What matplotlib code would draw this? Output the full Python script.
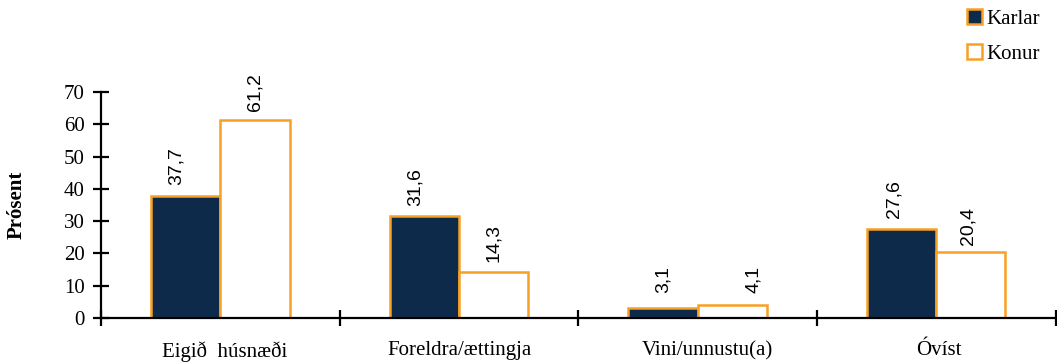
import matplotlib
matplotlib.use("Agg")
import matplotlib.pyplot as plt
from matplotlib.patches import Patch
import matplotlib.transforms as mtransforms
import numpy as np

categories = ["Eigið  húsnæði", "Foreldra/ættingja", "Vini/unnustu(a)", "Óvíst"]
karlar = [37.7, 31.6, 3.1, 27.6]
konur = [61.2, 14.3, 4.1, 20.4]
series_names = ["Karlar", "Konur"]
yticks = [0, 10, 20, 30, 40, 50, 60, 70]

# label nudges in pixels (style only)
karlar_dx = [-10, -9, 0, -8]
konur_dx = [0, 0, 21, -3]
karlar_dy = [11, 10, 15, 11]
konur_dy = [9, 10, 12, 7]
category_dx = [4, 1, 10, 3]

navy = "#0D2A4B"
orange = "#F8A024"
serif = ["Liberation Serif", "DejaVu Serif"]
sans = ["Liberation Sans", "DejaVu Sans"]

fig = plt.figure(figsize=(10.57, 3.62), dpi=100)
ax = fig.add_axes([0.0956, 0.1215, 0.903, 0.6245])

x = np.arange(len(categories))
w = 0.29
b1 = ax.bar(x - w / 2, karlar, w, color=navy, edgecolor=orange, linewidth=1.8)
b2 = ax.bar(x + w / 2, konur, w, color="white", edgecolor=orange, linewidth=1.8)

for bars, vals, dxs, dys in ((b1, karlar, karlar_dx, karlar_dy), (b2, konur, konur_dx, konur_dy)):
    for r, v, dx, dy in zip(bars, vals, dxs, dys):
        ax.annotate(f"{v:.1f}".replace(".", ","),
                    xy=(r.get_x() + r.get_width() / 2, v),
                    xytext=(dx, dy), textcoords="offset pixels",
                    rotation=90, ha="center", va="bottom", fontsize=14,
                    family=sans)

ax.set_xlim(-0.5, len(categories) - 0.5)
ax.set_ylim(0, 70)
ax.set_yticks(yticks)
ax.set_yticklabels([str(t) for t in yticks], family=serif, fontsize=15)
ax.set_xticks(np.arange(len(categories) + 1) - 0.5)
ax.set_xticklabels([])
ax.set_xticks(x, minor=True)
ax.set_xticklabels(categories, minor=True, family=serif, fontsize=15)
ax.tick_params(axis="x", which="minor", length=0, pad=16.5)
ax.tick_params(axis="x", which="major", direction="inout", length=11.5, width=1.6)
ax.tick_params(axis="y", direction="inout", length=11.5, width=1.6, pad=6)

for lbl, dx in zip(ax.get_xticklabels(minor=True), category_dx):
    lbl.set_transform(lbl.get_transform() + mtransforms.Affine2D().translate(dx, 0))

for s in ("top", "right"):
    ax.spines[s].set_visible(False)
for s in ("left", "bottom"):
    ax.spines[s].set_linewidth(1.6)

fig.text(16.5 / 1057, 1 - 205 / 362, "Prósent", rotation=90, ha="center", va="center",
         family=serif, fontsize=15, fontweight="bold")

handles = [Patch(facecolor=navy, edgecolor=orange, linewidth=1.8),
           Patch(facecolor="white", edgecolor=orange, linewidth=1.8)]
fig.legend(handles, series_names, loc="upper left",
           bbox_to_anchor=(967 / 1057, 1 - 9 / 362),
           frameon=False, prop={"family": serif, "size": 15},
           handlelength=0.7, handleheight=0.7, handletextpad=0.25, labelspacing=0.75,
           borderpad=0, borderaxespad=0)

fig.savefig("out.png", dpi=100)
